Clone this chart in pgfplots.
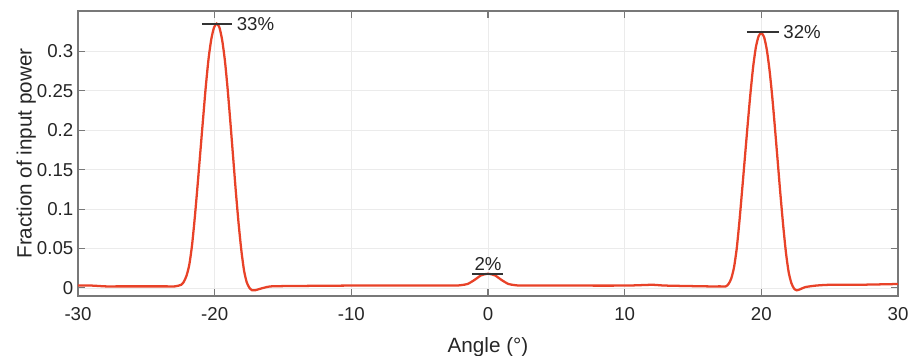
\documentclass[border=0pt]{standalone}
\usepackage{pgfplots}
\pgfplotsset{compat=1.18}
\usepackage{fontspec}
\setmainfont{Liberation Sans}
\definecolor{curve}{RGB}{232,66,40}
\definecolor{axgray}{RGB}{120,120,120}
\definecolor{txt}{RGB}{38,38,38}
\begin{document}
\begin{tikzpicture}
\begin{axis}[
  name=ax,
  scale only axis,
  width=615pt, height=213.75pt,
  xmin=-30, xmax=30, ymin=-0.0102, ymax=0.351,
  xtick={-30,-20,...,30},
  ytick={0,0.05,0.1,0.15,0.2,0.25,0.3},
  yticklabels={0,0.05,0.1,0.15,0.2,0.25,0.3},
  xticklabels={-30,-20,-10,0,10,20,30},
  tick align=inside,
  tick pos=both,
  major tick length=5pt,
  grid=major,
  grid style={gray!16, line width=0.5pt},
  axis line style={axgray, line width=0.8pt},
  tick style={axgray, line width=0.8pt},
  tick label style={font=\fontsize{14}{16}\selectfont, text=txt},
  xticklabel style={yshift=-5pt},
  /pgf/number format/assume math mode=true,
  xlabel={Angle (°)},
  ylabel={Fraction of input power},
  label style={font=\fontsize{15.5}{18}\selectfont, text=txt},
  xlabel style={yshift=-6pt},
  ylabel style={yshift=-6pt},
  clip=false,
]
\addplot[curve, line width=1.7pt, smooth, tension=0.4] coordinates {
(-30,0.003) (-29,0.003) (-28,0.002) (-27,0.002) (-25,0.002) (-23.5,0.002) (-22.9,0.002)
(-22.45,0.004) (-22.25,0.008) (-22.05,0.016) (-21.85,0.030) (-21.65,0.055) (-21.45,0.090)
(-21.25,0.130) (-21.05,0.172) (-20.85,0.214) (-20.65,0.255) (-20.45,0.290) (-20.25,0.315)
(-20.05,0.330) (-19.85,0.335) (-19.65,0.330) (-19.45,0.314) (-19.25,0.288) (-19.05,0.252)
(-18.85,0.210) (-18.65,0.166) (-18.45,0.122) (-18.25,0.082) (-18.05,0.048) (-17.85,0.022)
(-17.65,0.007) (-17.45,0.000) (-17.25,-0.003) (-17.05,-0.003) (-16.85,-0.002) (-16.45,0.000)
(-15.85,0.002) (-14,0.0025) (-10,0.003) (-5,0.003) (-2.5,0.003) (-2,0.0035) (-1.5,0.005)
(-1,0.010) (-0.5,0.016) (0,0.018) (0.5,0.016) (1,0.010) (1.5,0.005) (2,0.0035) (2.5,0.003)
(5,0.003) (10,0.003) (12,0.004) (13,0.003) (16,0.002) (17,0.002)
(17.4,0.002) (17.6,0.005) (17.8,0.012) (18.0,0.026) (18.2,0.050) (18.4,0.085) (18.6,0.125)
(18.8,0.166) (19.0,0.207) (19.2,0.246) (19.4,0.280) (19.6,0.305) (19.8,0.319) (20.0,0.323)
(20.2,0.318) (20.4,0.302) (20.6,0.276) (20.8,0.242) (21.0,0.202) (21.2,0.160) (21.4,0.118)
(21.6,0.079) (21.8,0.045) (22.0,0.020) (22.2,0.006) (22.4,-0.001) (22.6,-0.003) (22.8,-0.002)
(23.2,0.001) (24,0.003) (25,0.004) (27,0.004) (30,0.005)
};
\addplot[black!80, line width=1.5pt] coordinates {(-20.93,0.335) (-18.73,0.335)};
\addplot[black!80, line width=1.5pt] coordinates {(18.95,0.324) (21.29,0.324)};
\addplot[black!80, line width=1.5pt] coordinates {(-1.17,0.018) (1.10,0.018)};
\node[anchor=west, text=txt, font=\fontsize{14}{16}\selectfont, inner sep=1pt] at (axis cs:-18.5,0.335) {33\%};
\node[anchor=west, text=txt, font=\fontsize{14}{16}\selectfont, inner sep=1pt] at (axis cs:21.5,0.324) {32\%};
\node[anchor=south, text=txt, font=\fontsize{14}{16}\selectfont, inner sep=2pt] at (axis cs:0,0.018) {2\%};
\end{axis}
\pgfresetboundingbox
\path[use as bounding box] ([shift={(-58.5pt,-45pt)}]ax.south west) rectangle ([shift={(9pt,8.25pt)}]ax.north east);
\end{tikzpicture}
\end{document}
